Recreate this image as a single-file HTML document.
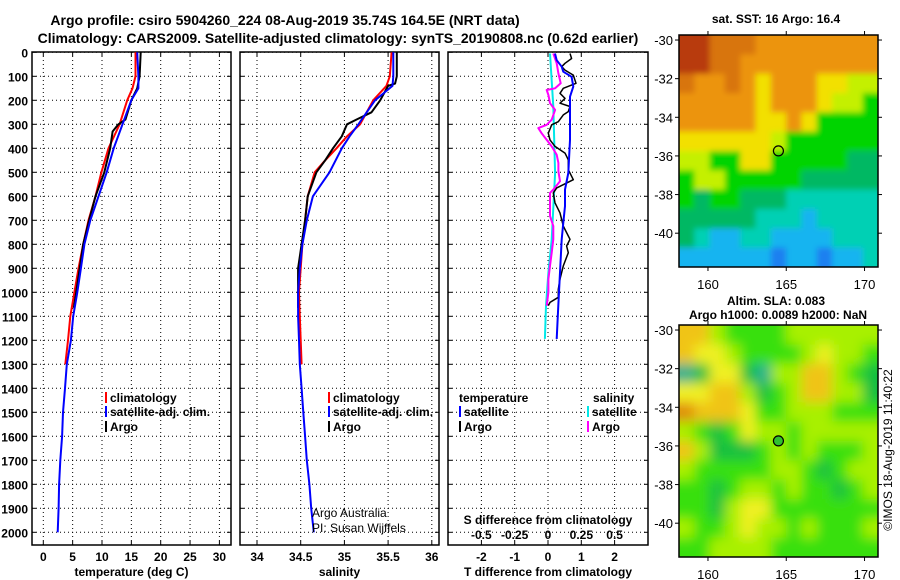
<!DOCTYPE html>
<html><head><meta charset="utf-8"><style>
body{margin:0;background:#fff;}
svg{display:block;font-family:"Liberation Sans",sans-serif;font-weight:bold;}
</style></head><body>
<svg id="fig" width="900" height="580" viewBox="0 0 900 580" xmlns="http://www.w3.org/2000/svg">
<defs>
<clipPath id="cm1"><rect x="679" y="35" width="199" height="232"/></clipPath>
<clipPath id="cm2"><rect x="679" y="325" width="199" height="232"/></clipPath>
<filter id="blur1" x="-5%" y="-5%" width="110%" height="110%"><feGaussianBlur stdDeviation="3"/></filter>
<filter id="blur2" x="-5%" y="-5%" width="110%" height="110%"><feGaussianBlur stdDeviation="6"/></filter>
</defs>
<text x="285" y="25" font-size="14" text-anchor="middle">Argo profile: csiro 5904260_224 08-Aug-2019 35.74S 164.5E (NRT data)</text>
<text x="338" y="43" font-size="14" text-anchor="middle">Climatology: CARS2009. Satellite-adjusted climatology: synTS_20190808.nc (0.62d earlier)</text>
<g id="root"></g>
<text x="0" y="0" font-size="12" font-weight="normal" text-anchor="middle" transform="translate(892,450) rotate(-90)">©IMOS 18-Aug-2019 11:40:22</text>
</svg>
<script>
// ---------- data ----------
const depthTicks = [0,100,200,300,400,500,600,700,800,900,1000,1100,1200,1300,1400,1500,1600,1700,1800,1900,2000];
const tTicks = [0,5,10,15,20,25,30];
const sTicks = [34,34.5,35,35.5,36];
const sTickLabels = ['34','34.5','35','35.5','36'];
const dtTicks = [-2,-1,0,1,2];
const dsTicks = [-0.5,-0.25,0,0.25,0.5];
const dsTickLabels = ['-0.5','-0.25','0','0.25','0.5'];

const tArgoDepth = [0,100,150,200,280,300,330,400,500,600,700,800,900,1000,1065];
const tArgo = [16.6,16.4,16.0,15.0,14.0,12.8,11.8,11.4,10.4,8.9,7.8,6.8,6.2,5.6,5.2];
const tSatDepth = [0,100,150,200,300,400,500,600,700,800,900,1000,1100,1200,1300,1400,1500,1600,1700,1800,1900,2000];
const tSat = [16.0,16.2,16.2,15.0,13.5,12.0,10.8,9.4,8.0,7.0,6.4,5.8,5.1,4.7,4.0,3.7,3.35,3.2,2.9,2.7,2.6,2.45];
const tClimDepth = [0,100,150,200,300,400,500,600,700,800,900,1000,1100,1200,1300];
const tClim = [15.7,15.7,15.2,14.3,13.0,11.1,9.9,8.9,7.7,6.8,6.0,5.3,4.6,4.2,3.75];

const sArgoDepth = [0,100,130,140,200,250,280,300,350,400,450,500,600,700,800,900,1000,1065];
const sArgo = [35.60,35.60,35.58,35.50,35.41,35.31,35.14,35.03,34.97,34.87,34.78,34.68,34.58,34.55,34.51,34.47,34.47,34.47];
const sSatDepth = [0,100,140,200,300,350,400,500,600,700,800,900,1000,1100,1200,1300,1400,1500,1600,1700,1800,1900,2000];
const sSat = [35.56,35.56,35.55,35.35,35.16,35.06,34.97,34.83,34.64,34.57,34.52,34.49,34.47,34.47,34.48,34.49,34.51,34.53,34.55,34.57,34.60,34.62,34.65];
const sClimDepth = [0,100,140,200,300,350,400,450,500,600,700,800,900,1000,1100,1200,1300];
const sClim = [35.54,35.52,35.48,35.33,35.18,35.03,34.91,34.78,34.66,34.58,34.55,34.52,34.50,34.48,34.49,34.50,34.51];

const dtArgoDepth = [5,26,46,60,74,95,129,150,171,192,212,226,247,261,289,302,337,365,392,420,448,489,531,565,586,627,669,724,779,807,835,890,945,987,1021,1042,1056];
const dtArgo = [0.66,0.71,0.51,0.41,0.51,0.76,0.84,0.46,0.36,0.51,0.36,0.66,0.61,0.46,0.31,0.11,0.01,0.06,0.21,0.51,0.61,0.61,0.76,0.26,0.16,0.21,0.36,0.46,0.66,0.56,0.61,0.46,0.36,0.31,0.31,0.06,0.01];
const dtSatDepth = [5,33,60,81,102,143,185,226,365,503,572,641,710,779,918,1056,1194];
const dtSat = [0.21,0.26,0.41,0.46,0.71,0.76,0.66,0.66,0.66,0.61,0.51,0.51,0.46,0.41,0.36,0.31,0.26];
const dsArgoDepth = [5,46,88,129,150,157,178,212,240,281,302,316,337,365,392,427,461,496,537,572,586,641,682,724,779,835,890,945,1000,1056];
const dsArgo = [0.040,0.065,0.078,0.095,0.053,-0.010,0.003,0.015,0.053,0.028,-0.010,-0.073,-0.048,-0.010,0.028,0.065,0.078,0.078,0.090,0.040,0.015,0.015,0.015,0.040,0.040,0.028,0.015,0.003,0.003,-0.010];
const dsSatDepth = [5,226,503,779,918,1056,1194];
const dsSat = [0.015,0.040,0.053,0.028,0.003,-0.015,-0.023];

// map grids (colour class per 1-degree cell), rows from -30 to -41, cols 158.6..170.4
const sstGrid = [
[1,1,2,2,2,3,3,3,3,3,3,3,3],
[1,1,2,2,3,3,3,3,3,3,3,3,3],
[2,3,3,2,3,4,3,3,3,4,4,5,5],
[3,3,3,3,3,4,3,3,3,4,5,5,6],
[3,3,3,3,3,4,4,3,4,6,6,6,6],
[4,4,4,4,4,4,5,6,6,6,6,6,6],
[5,5,6,6,4,4,6,6,6,6,6,7,7],
[6,5,5,6,6,6,6,6,7,7,7,7,7],
[6,7,6,6,7,7,7,8,8,8,8,8,8],
[7,7,7,7,7,8,8,8,9,8,8,8,8],
[7,8,9,9,8,8,9,9,9,9,8,8,8],
[9,9,9,9,9,9,10,9,9,10,9,9,8]];
const sstColors = ['#000','#b83a08','#d8740a','#ec9410','#f2e000','#c4f000','#00d400','#00b864','#00d0b4','#18b4f0','#1c80f0'];
const slaGrid = [
[5,5,3,2,2,2,2,3,3,3,3,3,3],
[5,4,4,3,2,2,2,2,3,4,3,3,2],
[0,1,4,4,1,0,3,3,5,5,3,2,1],
[4,4,5,5,3,1,2,3,5,5,3,3,1],
[6,5,5,5,4,2,2,3,3,3,2,2,2],
[3,2,1,2,4,3,3,2,3,3,3,3,3],
[5,3,1,1,1,2,3,2,3,2,2,2,3],
[3,2,2,2,2,2,3,3,2,1,2,3,3],
[2,2,1,2,3,3,2,3,2,2,1,2,3],
[2,2,1,3,4,4,2,2,2,2,2,2,2],
[3,2,2,3,4,3,3,2,3,2,2,2,3],
[2,2,3,3,3,3,2,2,2,2,2,2,2]];
const slaColors = ['#20b090','#18c040','#38e010','#a8f000','#f0f020','#f0c418','#e08c10'];
const argoLon = 164.5, argoLat = -35.74;
const mapLonTicks = [160,165,170];
const mapLatTicks = [-30,-32,-34,-36,-38,-40];

// ---------- helpers ----------
const NS='http://www.w3.org/2000/svg';
const root=document.getElementById('root');
function mk(tag,attrs,parent){const e=document.createElementNS(NS,tag);for(const k in attrs)e.setAttribute(k,attrs[k]);(parent||root).appendChild(e);return e;}
const TOP=52, BOT=545;
const yD = d => 52.3 + d*0.24;

function panel(name,x0,x1,xScale,xt,xtl,ylabels,xlabel){
  const g=mk('g',{});
  
  
  depthTicks.forEach(d=>{
    const y=yD(d);
    const l=mk('line',{x1:x0,x2:x1,y1:y,y2:y,stroke:'#000','stroke-width':1,'stroke-dasharray':'1,3'},g);
    
    
    mk('line',{x1:x0,x2:x0+4,y1:y,y2:y,stroke:'#000'},g);
    mk('line',{x1:x1-4,x2:x1,y1:y,y2:y,stroke:'#000'},g);
    if(ylabels){const t=mk('text',{x:28,y:y+5,'font-size':12,'text-anchor':'end'},g);t.textContent=d;
      
      }
  });
  xt.forEach((v,i)=>{
    const x=xScale(v);
    const l=mk('line',{x1:x,x2:x,y1:TOP,y2:BOT,stroke:'#000','stroke-width':1,'stroke-dasharray':'1,3'},g);
    
    
    mk('line',{x1:x,x2:x,y1:BOT,y2:BOT-4,stroke:'#000'},g);
    mk('line',{x1:x,x2:x,y1:TOP,y2:TOP+4,stroke:'#000'},g);
    const t=mk('text',{x:x,y:561,'font-size':12,'text-anchor':'middle'},g);t.textContent=xtl[i];
    
    
  });
  const r=mk('rect',{x:x0,y:TOP,width:x1-x0,height:BOT-TOP,fill:'none',stroke:'#000','stroke-width':1.5},g);
  
  
  const xl=mk('text',{x:(x0+x1)/2,y:576,'font-size':12,'text-anchor':'middle'},g);xl.textContent=xlabel;
  
  
  return g;
}
function line(g,xs,ds,xScale,color,w,name){
  const p=xs.map((v,i)=>xScale(v).toFixed(1)+','+yD(ds[i]).toFixed(1)).join(' ');
  const e=mk('polyline',{points:p,fill:'none',stroke:color,'stroke-width':w,'stroke-linejoin':'round'},g);
  
  
}
function legend(g,x,y,color,label,name){
  mk('line',{x1:x,x2:x,y1:y-10,y2:y+1,stroke:color,'stroke-width':2},g);
  const t=mk('text',{x:x+4,y:y,'font-size':12},g);t.textContent=label;
  
  
}

// ---------- temperature panel ----------
const xT = v => 43.3 + v*5.87;
const g1=panel('temperature-panel',32,231,xT,tTicks,tTicks.map(String),true,'temperature (deg C)');
line(g1,tClim,tClimDepth,xT,'#ff0000',2,'temperature-climatology-line');
line(g1,tArgo,tArgoDepth,xT,'#000000',2,'temperature-argo-line');
line(g1,tSat,tSatDepth,xT,'#0000ff',2,'temperature-satellite-line');
legend(g1,106,402,'#ff0000','climatology','legend-climatology');
legend(g1,106,416,'#0000ff','satellite-adj. clim.','legend-satellite');
legend(g1,106,431,'#000000','Argo','legend-argo');

// ---------- salinity panel ----------
const xS = v => 257 + (v-34)*87.4;
const g2=panel('salinity-panel',240,439,xS,sTicks,sTickLabels,false,'salinity');
line(g2,sClim,sClimDepth,xS,'#ff0000',2,'salinity-climatology-line');
line(g2,sArgo,sArgoDepth,xS,'#000000',2,'salinity-argo-line');
line(g2,sSat,sSatDepth,xS,'#0000ff',2,'salinity-satellite-line');
legend(g2,329,402,'#ff0000','climatology','legend-climatology');
legend(g2,329,416,'#0000ff','satellite-adj. clim.','legend-satellite');
legend(g2,329,431,'#000000','Argo','legend-argo');
[['Argo Australia',517],['PI: Susan Wijffels',532]].forEach(a=>{
  const t=mk('text',{x:312,y:a[1],'font-size':12,'font-weight':'normal'},g2);t.textContent=a[0];
  
  
});

// ---------- difference panel ----------
const xDT = v => 548 + v*33.3;
const xDS = v => 548 + v*133.3;
const g3=panel('difference-panel',448,648,xDT,dtTicks,dtTicks.map(String),false,'T difference from climatology');
line(g3,dsSat,dsSatDepth,xDS,'#00e8e8',2,'salinity-satellite-diff-line');
line(g3,dsArgo,dsArgoDepth,xDS,'#ff00ff',2,'salinity-argo-diff-line');
line(g3,dtArgo,dtArgoDepth,xDT,'#000000',1.5,'temperature-argo-diff-line');
line(g3,dtSat,dtSatDepth,xDT,'#0000ff',2,'temperature-satellite-diff-line');
{const t=mk('text',{x:459,y:402,'font-size':12},g3);t.textContent='temperature';
 
 
 const t2=mk('text',{x:593,y:402,'font-size':12},g3);t2.textContent='salinity';
 
 }
legend(g3,460,416,'#0000ff','satellite','legend-t-satellite');
legend(g3,460,431,'#000000','Argo','legend-t-argo');
legend(g3,588,416,'#00e8e8','satellite','legend-s-satellite');
legend(g3,588,431,'#ff00ff','Argo','legend-s-argo');
{const t=mk('text',{x:548,y:524,'font-size':12,'text-anchor':'middle'},g3);t.textContent='S difference from climatology';
 
 }
dsTicks.forEach((v,i)=>{
  const t=mk('text',{x:xDS(v),y:539,'font-size':12,'text-anchor':'middle'},g3);t.textContent=dsTickLabels[i];
  
  
});

// ---------- maps ----------
const MX0=679,MX1=878,LON0=158.15,LON1=170.86,LAT0=-29.74,LAT1=-41.75;
function map(name,y0,grid,colors,clip,filt,title1,title2,filled){
  const g=mk('g',{});
  
  
  const lonX=v=>MX0+(v-LON0)/(LON1-LON0)*(MX1-MX0);
  const latY=v=>y0+(v-LAT0)/(LAT1-LAT0)*232;
  const cg=mk('g',{'clip-path':'url(#'+clip+')'},g);
  const ig=mk('g',{filter:'url(#'+filt+')'},cg);
  const nr=grid.length,nc=grid[0].length,cw=(MX1-MX0)/nc,ch=232/nr;
  grid.forEach((row,r)=>row.forEach((c,k)=>{
    let x=MX0+k*cw,y=y0+r*ch,w=cw+0.6,h=ch+0.6;
    if(k===0){x-=15;w+=15;} if(k===nc-1){w+=15;}
    if(r===0){y-=15;h+=15;} if(r===nr-1){h+=15;}
    const e=mk('rect',{x:x,y:y,width:w,height:h,fill:colors[c]},ig);
    
    
  }));
  const fr=mk('rect',{x:MX0,y:y0,width:MX1-MX0,height:232,fill:'none',stroke:'#000','stroke-width':1.5},g);
  
  
  mapLonTicks.forEach(v=>{
    const x=lonX(v);
    mk('line',{x1:x,x2:x,y1:y0,y2:y0-4,stroke:'#000'},g);
    mk('line',{x1:x,x2:x,y1:y0+232,y2:y0+236,stroke:'#000'},g);
    const t=mk('text',{x:x,y:y0+254,'font-size':13,'text-anchor':'middle','font-weight':'normal'},g);t.textContent=v;
    
    
  });
  mapLatTicks.forEach(v=>{
    const y=latY(v);
    mk('line',{x1:MX0,x2:MX0-4,y1:y,y2:y,stroke:'#000'},g);
    mk('line',{x1:MX1,x2:MX1+4,y1:y,y2:y,stroke:'#000'},g);
    const t=mk('text',{x:673,y:y+5,'font-size':13,'text-anchor':'end','font-weight':'normal'},g);t.textContent=v;
    
    
  });
  const c=mk('circle',{cx:lonX(argoLon),cy:latY(argoLat),r:5,fill:filled?'#30c030':'none',stroke:'#000','stroke-width':1.2},g);
  
  
  const t1=mk('text',{x:776,y:title2?y0-20:y0-12,'font-size':12,'text-anchor':'middle'},g);t1.textContent=title1;
  
  
  if(title2){const t2=mk('text',{x:778,y:y0-6,'font-size':12,'text-anchor':'middle'},g);t2.textContent=title2;
    
    }
}
map('sst-map',35,sstGrid,sstColors,'cm1','blur1','sat. SST: 16 Argo: 16.4',null,false);
map('sla-map',325,slaGrid,slaColors,'cm2','blur2','Altim. SLA: 0.083','Argo h1000: 0.0089 h2000: NaN',true);
</script>
</body></html>
